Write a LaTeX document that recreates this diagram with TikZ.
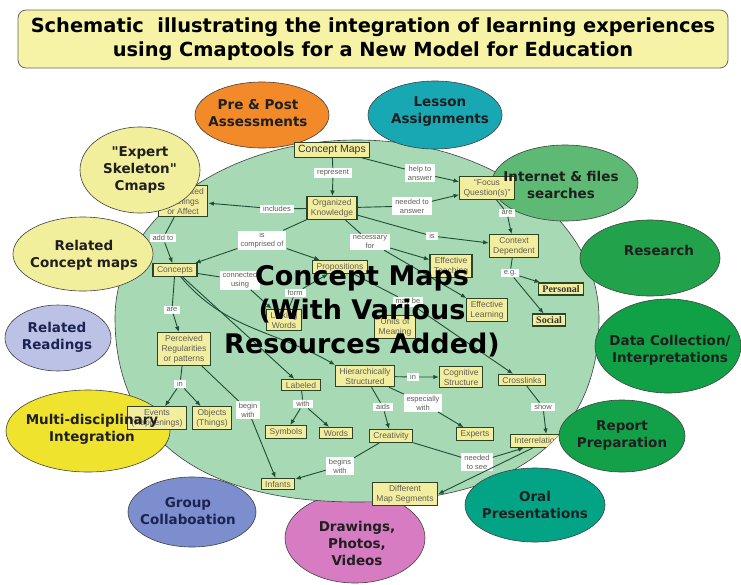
\documentclass[tikz,border=0pt]{standalone}
\usepackage{fontspec}
\setmainfont{Liberation Sans}
\setsansfont{DejaVu Sans}[Ligatures=TeXOff]
\newfontfamily\cmapserif{Liberation Serif}
\usetikzlibrary{arrows.meta}

\definecolor{mapgreen}{HTML}{A6D9B4}
\definecolor{boxyellow}{HTML}{F3EE9F}
\definecolor{boxline}{HTML}{2C4327}
\definecolor{linkgreen}{HTML}{1F4D33}
\definecolor{boxtext}{HTML}{5E5E55}
\definecolor{titleyellow}{HTML}{F6F2A6}
\definecolor{prepost}{HTML}{F28A2A}
\definecolor{lesson}{HTML}{17A8B4}
\definecolor{internet}{HTML}{5DB974}
\definecolor{research}{HTML}{22A24B}
\definecolor{datacoll}{HTML}{10A146}
\definecolor{report}{HTML}{12A048}
\definecolor{oral}{HTML}{03A486}
\definecolor{drawings}{HTML}{D77CC3}
\definecolor{group}{HTML}{7D8ECF}
\definecolor{multi}{HTML}{EFE32D}
\definecolor{readings}{HTML}{BCC1E6}
\definecolor{relmaps}{HTML}{F1EE9C}
\definecolor{navytext}{HTML}{1B2350}

\begin{document}
\begin{tikzpicture}[scale=0.3515,
  sat/.style={draw=black!75, line width=0.6pt},
  sattext/.style={font=\sffamily\bfseries\fontsize{13.5}{17}\selectfont, align=center, text=black!88},
  cbox/.style={draw=boxline, line width=1.1pt, fill=boxyellow, font=\fontsize{8.5}{10}\selectfont, text=boxtext, align=center, inner xsep=4pt, inner ysep=2.5pt},
  lbl/.style={fill=white, font=\fontsize{7.5}{9}\selectfont, text=boxtext, align=center, inner xsep=3pt, inner ysep=1.5pt},
  link/.style={draw=linkgreen, line width=0.9pt},
  arr/.style={link, -{Latex[length=5.5pt,width=4.5pt]}}]
\useasboundingbox (0,0) rectangle (74.1,-58.4);
\node [draw=black!60, line width=0.8pt, fill=titleyellow, rounded corners=8pt, minimum width=710pt, minimum height=58pt, align=center, font=\sffamily\bfseries\fontsize{19.4}{24}\selectfont] (title) at (37.3,-3.9) {Schematic~ illustrating the integration of learning experiences\\using Cmaptools for a New Model for Education};

\draw [sat, fill=drawings] (35.5,-53.8) ellipse (7.0 and 4.5);
\draw [sat, fill=mapgreen] (11.5,-31.8) arc [start angle=180, end angle=0, x radius=24.2, y radius=17.8] .. controls (59.9,-43.8) and (51.4,-50.2) .. (35.7,-50.2) .. controls (20.0,-50.2) and (11.5,-43.8) .. (11.5,-31.8) -- cycle;
\draw [sat, fill=multi] (8.8,-43.1) ellipse (8.2 and 4.1);
\draw [sat, fill=prepost] (26.2,-11.5) ellipse (6.7 and 3.3);
\draw [sat, fill=lesson] (43.5,-11.5) ellipse (6.7 and 3.4);
\draw [sat, fill=internet] (56.5,-18.3) ellipse (7.3 and 3.8);
\draw [sat, fill=research] (65.0,-25.8) ellipse (7.0 and 3.8);
\draw [sat, fill=datacoll] (66.8,-34.6) ellipse (7.3 and 4.7);
\draw [sat, fill=report] (62.2,-43.6) ellipse (6.3 and 3.6);
\draw [sat, fill=oral] (53.5,-50.5) ellipse (7.0 and 3.7);
\draw [sat, fill=group] (19.2,-51.2) ellipse (6.4 and 3.5);
\draw [sat, fill=readings] (5.8,-33.8) ellipse (5.3 and 3.3);
\draw [sat, fill=relmaps] (8.3,-25.4) ellipse (7.0 and 3.7);

\node [cbox, font=\fontsize{10.5}{12}\selectfont, text=black!80] (cm) at (33.2,-15.0) {Concept Maps};
\node [cbox] (ok) at (33.2,-20.8) {Organized\\Knowledge};
\node [cbox] (af) at (18.3,-20.1) {Associated\\Feelings\\or Affect};
\node [cbox] (con) at (17.5,-27.0) {Concepts};
\node [cbox] (prop) at (34.0,-26.7) {Propositions};
\node [cbox] (fq) at (48.7,-18.8) {“Focus\\Question(s)”};
\node [cbox] (cd) at (51.4,-24.6) {Context\\Dependent};
\node [cbox] (et) at (45.1,-26.6) {Effective\\Teaching};
\node [cbox, font=\cmapserif\bfseries\fontsize{10}{12}\selectfont, text=black!80] (pers) at (56.1,-28.9) {Personal};
\node [cbox, font=\cmapserif\bfseries\fontsize{10}{12}\selectfont, text=black!80] (soc) at (54.9,-32.0) {Social};
\node [cbox] (el) at (48.7,-31.0) {Effective\\Learning};
\node [cbox] (um) at (39.5,-32.7) {Units of\\Meaning};
\node [cbox] (lw) at (28.4,-32.0) {Linking\\Words};
\node [cbox] (pr) at (18.4,-34.9) {Perceived\\Regularities\\or patterns};
\node [cbox] (ev) at (15.7,-41.8) {Events\\(Happenings)};
\node [cbox] (obj) at (21.2,-41.8) {Objects\\(Things)};
\node [cbox] (lab) at (30.1,-38.5) {Labeled};
\node [cbox] (hs) at (36.5,-37.6) {Hierarchically\\Structured};
\node [cbox] (cs) at (46.1,-37.7) {Cognitive\\Structure};
\node [cbox] (cl) at (52.2,-38.0) {Crosslinks};
\node [cbox] (sym) at (28.6,-43.2) {Symbols};
\node [cbox] (wd) at (33.6,-43.3) {Words};
\node [cbox] (cre) at (39.1,-43.6) {Creativity};
\node [cbox] (exp) at (47.5,-43.4) {Experts};
\node [cbox] (inf) at (27.8,-48.4) {Infants};
\node [cbox] (dms) at (40.5,-49.4) {Different\\Map Segments};
\begin{scope}
\clip (11.5,-31.8) arc [start angle=180, end angle=0, x radius=24.2, y radius=17.8] .. controls (59.9,-43.8) and (51.4,-50.2) .. (35.7,-50.2) .. controls (20.0,-50.2) and (11.5,-43.8) .. (11.5,-31.8) -- cycle;
\node [cbox, anchor=west] (ir) at (51.0,-44.1) {Interrelationships};
\end{scope}

\node [lbl] (l1) at (33.3,-17.3) {represent};
\node [lbl] (l2) at (42.0,-17.3) {help to\\answer};
\node [lbl] (l3) at (41.2,-20.6) {needed to\\answer};
\node [lbl] (l4) at (43.2,-23.6) {is};
\node [lbl] (l5) at (50.7,-21.3) {are};
\node [lbl] (l6) at (51.0,-27.3) {e.g.};
\node [lbl] (l7) at (27.7,-20.9) {includes};
\node [lbl] (l8) at (16.3,-23.8) {add to};
\node [lbl] (l9) at (26.2,-24.0) {is\\comprised of};
\node [lbl] (l10) at (37.0,-24.2) {necessary\\for};
\node [lbl] (l11) at (24.0,-28.0) {connected\\using};
\node [lbl] (l12) at (29.5,-29.3) {form};
\node [lbl] (l13) at (17.2,-31.0) {are};
\node [lbl] (l14) at (18.0,-38.4) {in};
\node [lbl] (l15) at (24.8,-41.0) {begin\\with};
\node [lbl] (l16) at (30.3,-40.4) {with};
\node [lbl] (l17) at (40.8,-30.2) {may be};
\node [lbl] (l18) at (41.3,-37.7) {in};
\node [lbl] (l19) at (38.3,-40.7) {aids};
\node [lbl] (l20) at (42.3,-40.3) {especially\\with};
\node [lbl] (l21) at (54.3,-40.7) {show};
\node [lbl] (l22) at (34.0,-46.6) {begins\\with};
\node [lbl] (l23) at (47.7,-46.2) {needed\\to see};

\draw [link] (cm) -- (l1); \draw [arr] (l1) -- (ok);
\draw [link] (cm) -- (l2); \draw [arr] (l2) -- (fq);
\draw [link] (ok) -- (l3); \draw [arr] (l3) -- (fq);
\draw [link] (ok) -- (l4); \draw [arr] (l4) -- (cd);
\draw [link] (fq) -- (l5); \draw [arr] (l5) -- (cd);
\draw [link] (cd) -- (l6); \draw [arr] (l6) -- (pers); \draw [arr] (l6) -- (soc);
\draw [link] (ok) -- (l7); \draw [arr] (l7) -- (af);
\draw [link] (af) -- (l8); \draw [arr] (l8) -- (con);
\draw [link] (ok) -- (l9); \draw [arr] (l9) -- (con); \draw [arr] (l9) -- (prop);
\draw [link] (ok) -- (l10); \draw [arr] (l10) -- (et); \draw [arr] (l10) -- (el);
\draw [link] (con) -- (l11); \draw [arr] (l11) -- (lw);
\draw [link] (lw) -- (l12); \draw [arr] (l12) -- (prop);
\draw [link] (prop) -- (l17); \draw [arr] (l17) -- (cl);
\draw [link] (con) -- (l13); \draw [arr] (l13) -- (pr);
\draw [link] (pr) -- (l14); \draw [arr] (l14) -- (ev); \draw [arr] (l14) -- (obj);
\draw [link] (pr) -- (l15); \draw [arr] (l15) -- (inf);
\draw [arr] (con) -- (lab);
\draw [arr] (con) to [out=-50, in=150] (hs.north west);
\draw [link] (lab) -- (l16); \draw [arr] (l16) -- (sym); \draw [arr] (l16) -- (wd);
\draw [link] (hs) -- (l18); \draw [arr] (l18) -- (cs);
\draw [link] (hs) -- (l19); \draw [arr] (l19) -- (cre);
\draw [link] (hs) -- (l20); \draw [arr] (l20) -- (exp);
\draw [link] (cl) -- (l21); \draw [arr] (l21) -- (ir);
\draw [link] (cre) -- (l22); \draw [arr] (l22) -- (inf);
\draw [link] (cre) -- (l23); \draw [arr] (l23) -- (ir);
\draw [arr] (ir) -- (dms.east);

\draw [sat, fill=relmaps] (14.0,-17.0) ellipse (6.0 and 4.3);

\node [sattext] (prepostt) at (25.8,-11.3) {Pre \& Post\\Assessments};
\node [sattext] (lessont) at (44.0,-11.2) {Lesson\\Assignments};
\node [sattext] (internett) at (56.1,-18.5) {Internet \& files\\searches};
\node [sattext] (researcht) at (65.9,-25.0) {Research};
\node [sattext] (datacollt) at (67.0,-35.0) {Data Collection/\\Interpretations};
\node [sattext] (reportt) at (62.2,-43.5) {Report\\Preparation};
\node [sattext] (oralt) at (53.5,-50.5) {Oral\\Presentations};
\node [sattext] (drawingst) at (35.7,-54.3) {Drawings,\\Photos,\\Videos};
\node [sattext, text=navytext] (groupt) at (18.8,-51.1) {Group\\Collaboation};
\node [sattext] (multit) at (9.2,-42.9) {Multi-disciplinary\\Integration};
\node [sattext, text=navytext] (readingst) at (5.7,-33.7) {Related\\Readings};
\node [sattext] (relmapst) at (8.4,-25.5) {Related\\Concept maps};
\node [sattext] (expertt) at (14.0,-17.0) {"Expert\\Skeleton"\\Cmaps};

\node [align=center, font=\sffamily\bfseries\fontsize{27}{34}\selectfont] (bigtext) at (36.2,-31.1) {Concept Maps\\(With Various\\Resources Added)};
\end{tikzpicture}
\end{document}
